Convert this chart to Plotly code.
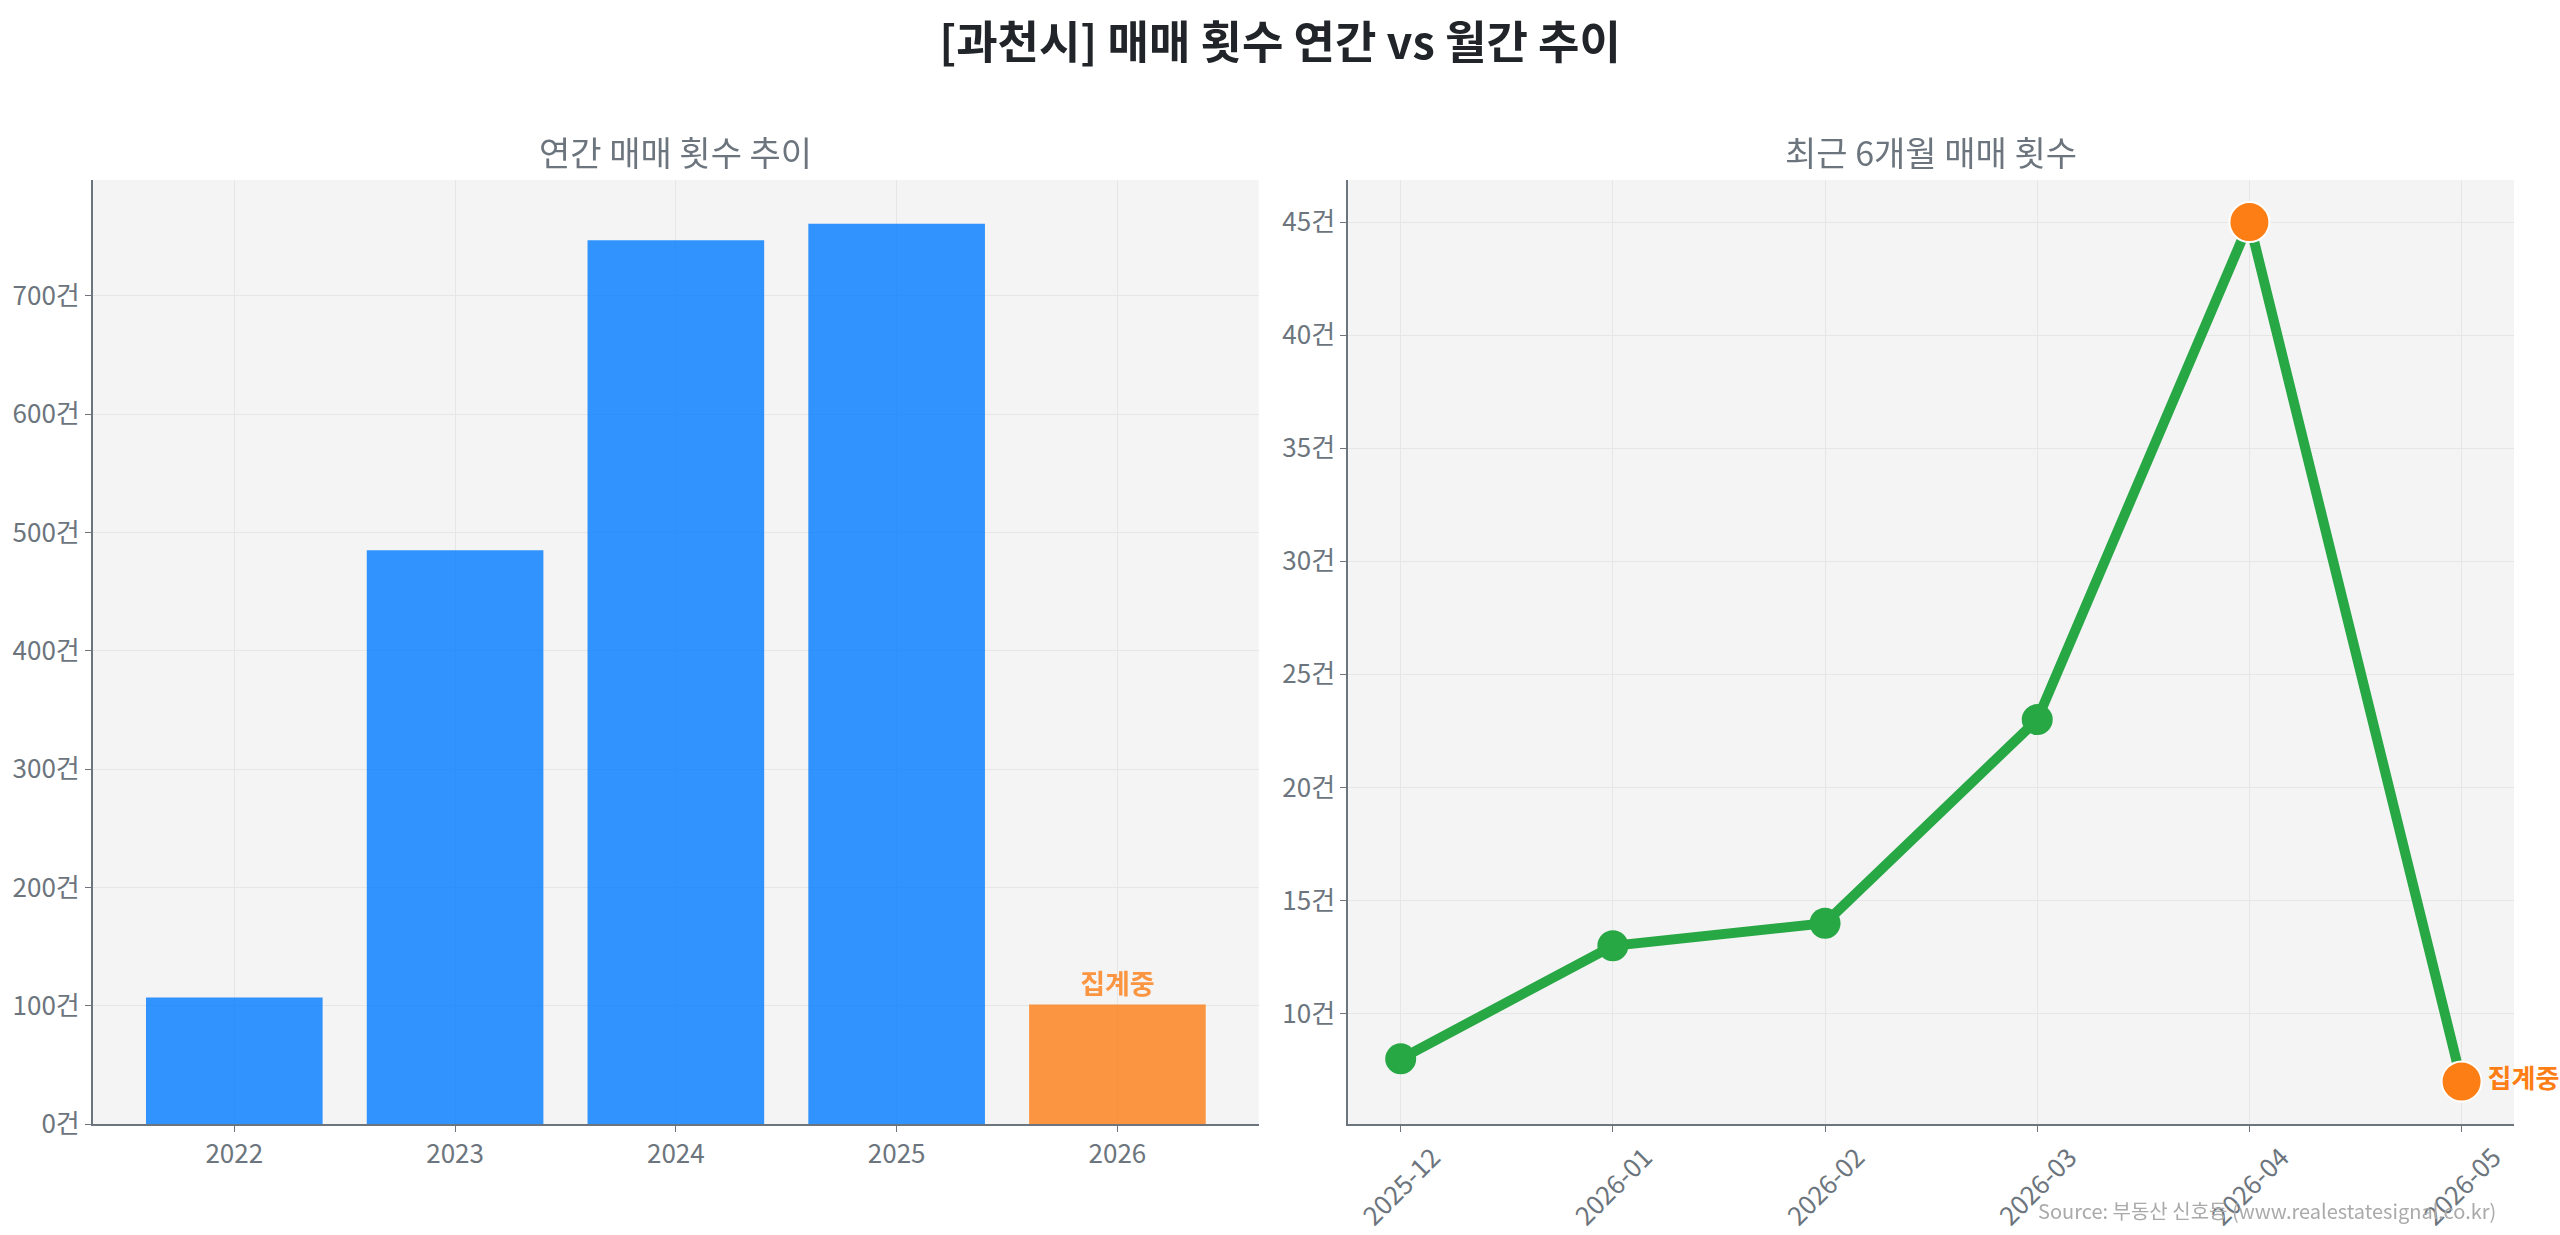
import plotly.graph_objects as go
from plotly.subplots import make_subplots

years = ["2022", "2023", "2024", "2025", "2026"]
yearly_counts = [107, 485, 747, 761, 101]
yearly_labels = ["", "", "", "", "집계중"]

months = ["2025-12", "2026-01", "2026-02", "2026-03", "2026-04", "2026-05"]
monthly_counts = [8, 13, 14, 23, 45, 7]

highlight_months = ["2026-04", "2026-05"]
highlight_counts = [45, 7]
highlight_labels = ["", "집계중"]

y_left_ticks = [0, 100, 200, 300, 400, 500, 600, 700]
y_right_ticks = [10, 15, 20, 25, 30, 35, 40, 45]

FONT = "Noto Sans CJK KR, Noto Sans, sans-serif"
GRAY = "#6c757d"
BLUE = "#007bff"
ORANGE = "#fd7e14"
GREEN = "#28a745"

fig = make_subplots(rows=1, cols=2, subplot_titles=("연간 매매 횟수 추이", "최근 6개월 매매 횟수"),
                    horizontal_spacing=0.037)

fig.add_trace(go.Bar(
    x=years, y=yearly_counts,
    marker=dict(color=[BLUE, BLUE, BLUE, BLUE, ORANGE], line=dict(width=0)),
    opacity=0.8, width=0.8,
    text=yearly_labels, textposition="outside",
    textfont=dict(color=ORANGE, size=27, family=FONT, weight="bold"),
    cliponaxis=False, showlegend=False, hoverinfo="x+y",
), row=1, col=1)

fig.add_trace(go.Scatter(
    x=months, y=monthly_counts, mode="lines+markers",
    line=dict(color=GREEN, width=10),
    marker=dict(color=GREEN, size=31),
    showlegend=False, cliponaxis=False,
), row=1, col=2)

fig.add_trace(go.Scatter(
    x=highlight_months, y=highlight_counts, mode="markers+text",
    marker=dict(color=ORANGE, size=40, line=dict(color="white", width=2)),
    text=highlight_labels, textposition="middle right",
    textfont=dict(color=ORANGE, size=26, family=FONT, weight="bold"),
    showlegend=False, cliponaxis=False,
), row=1, col=2)

axis_common = dict(showline=True, linecolor=GRAY, linewidth=2, ticks="outside",
                   ticklen=6, tickcolor=GRAY, gridcolor="#e6e6e6", gridwidth=1,
                   tickfont=dict(size=26, color=GRAY, family=FONT), zeroline=False,
                   automargin=False)

fig.update_xaxes(**axis_common)
fig.update_yaxes(**axis_common)

fig.update_xaxes(type="category", range=[-0.64, 4.64], row=1, col=1)
fig.update_yaxes(range=[0, 798], tickvals=y_left_ticks,
                 ticktext=[f"{v}건" for v in y_left_ticks], row=1, col=1)

fig.update_xaxes(type="category", range=[-0.247, 5.247], tickangle=-45,
                 ticklabelshift=32, row=1, col=2)
fig.update_yaxes(range=[5.12, 46.86], tickvals=y_right_ticks,
                 ticktext=[f"{v}건" for v in y_right_ticks], row=1, col=2)

for ann in fig.layout.annotations:
    ann.font = dict(size=34, color=GRAY, family=FONT)
    ann.yshift = 2

fig.add_annotation(
    text="Source: 부동산 신호등 (www.realestatesignal.co.kr)",
    xref="paper", yref="paper", x=0.9934, y=-0.092, xanchor="right", yanchor="middle",
    showarrow=False, font=dict(size=20, color="#aaaaaa", family=FONT),
)

fig.update_layout(
    title=dict(text="<b>[과천시] 매매 횟수 연간 vs 월간 추이</b>", x=0.5, xanchor="center",
               yref="container", y=0.965, yanchor="middle",
               font=dict(size=45, color="#212529", family=FONT)),
    width=2560, height=1235,
    margin=dict(l=93, r=46, t=180, b=111, autoexpand=False),
    paper_bgcolor="white", plot_bgcolor="#f4f4f4",
    font=dict(family=FONT, color=GRAY),
)

fig.write_html("out.html")
